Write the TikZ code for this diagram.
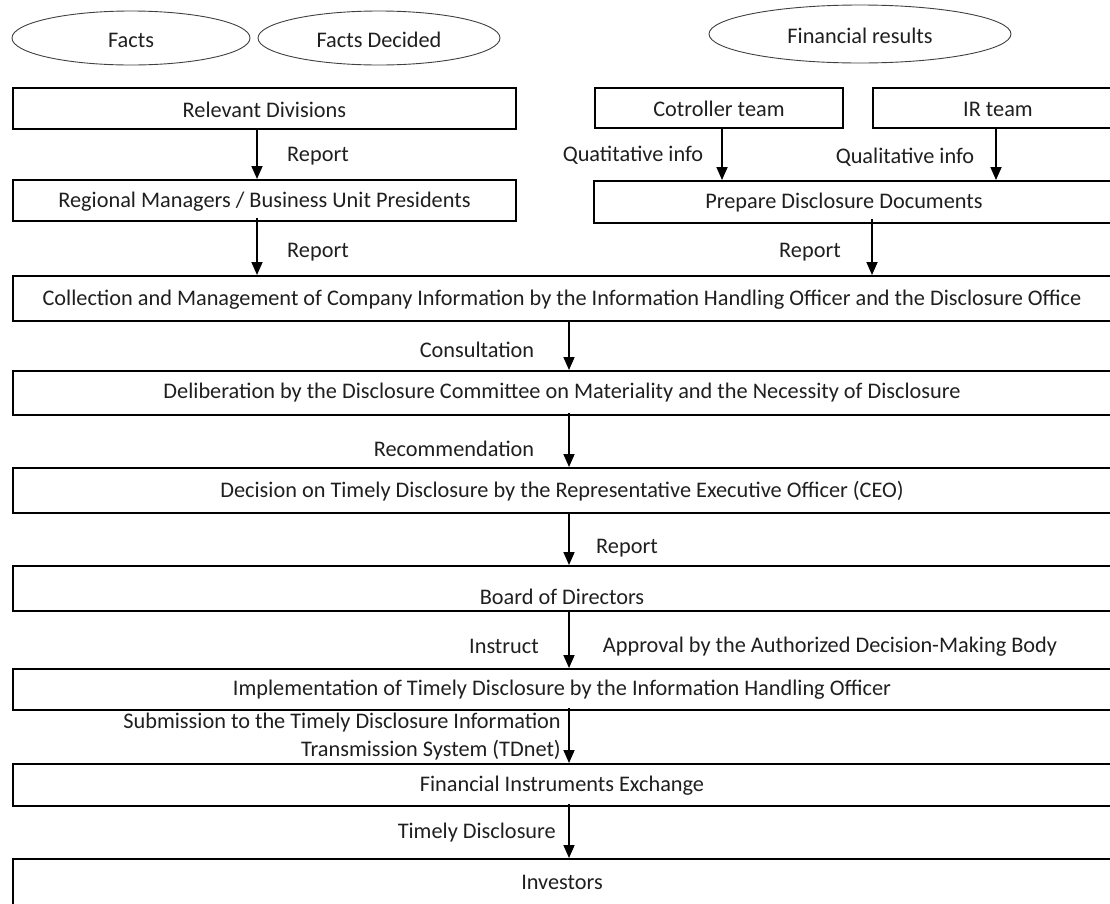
\documentclass[tikz,border=0pt]{standalone}
\usepackage{fontspec}
\setmainfont{Carlito}
\usetikzlibrary{arrows.meta}
\begin{document}
\begin{tikzpicture}[x=1pt,y=-1pt,
  every node/.style={font=\fontsize{22.3}{26}\selectfont, text=black!88},
  box/.style={draw=black, line width=1.9pt, inner sep=0pt, anchor=north west},
  arr/.style={line width=1.7pt, -{Triangle[width=11pt,length=13pt]}},
  lab/.style={inner sep=0pt}]
\useasboundingbox (0,0) rectangle (1110,903);
% ellipses
\draw[black!75, line width=0.9pt] (131,38) ellipse [x radius=119, y radius=27];
\node[lab] (facts) at (131,40) {Facts};
\draw[black!75, line width=0.9pt] (379,38) ellipse [x radius=121, y radius=27];
\node[lab] (factsd) at (379,40) {Facts Decided};
\draw[black!75, line width=0.9pt] (860,34) ellipse [x radius=151, y radius=29];
\node[lab] (finres) at (860,36) {Financial results};
% left column
\node[box, minimum width=503pt, minimum height=41pt] (rel) at (12,87) {};
\node[lab] at ([yshift=-1pt]rel.center) {Relevant Divisions};
\node[box, minimum width=503pt, minimum height=41pt] (reg) at (12,179) {};
\node[lab] at ([yshift=-1pt]reg.center) {Regional Managers / Business Unit Presidents};
% right column
\node[box, minimum width=248pt, minimum height=40pt] (ctl) at (594,87) {};
\node[lab] at ([yshift=-1pt]ctl.center) {Cotroller team};
\node[box, minimum width=250pt, minimum height=40pt] (ir) at (872,87) {};
\node[lab] at ([yshift=-1pt]ir.center) {IR team};
\node[box, minimum width=530pt, minimum height=42pt] (prep) at (593,180) {};
\node[lab] at ([xshift=-15pt,yshift=-1pt]prep.center) {Prepare Disclosure Documents};
% main column
\node[box, minimum width=1110pt, minimum height=45pt] (coll) at (12,275) {};
\node[lab] at (562,300) {Collection and Management of Company Information by the Information Handling Officer and the Disclosure Office};
\node[box, minimum width=1110pt, minimum height=44pt] (delib) at (12,370) {};
\node[lab] at (562,393) {Deliberation by the Disclosure Committee on Materiality and the Necessity of Disclosure};
\node[box, minimum width=1110pt, minimum height=45pt] (dec) at (12,467) {};
\node[lab] at (562,491) {Decision on Timely Disclosure by the Representative Executive Officer (CEO)};
\node[box, minimum width=1110pt, minimum height=45pt] (board) at (12,565) {};
\node[lab] at (562,597) {Board of Directors};
\node[box, minimum width=1110pt, minimum height=41pt] (impl) at (12,668) {};
\node[lab] at (562,690) {Implementation of Timely Disclosure by the Information Handling Officer};
\node[box, minimum width=1110pt, minimum height=42pt] (fie) at (12,763) {};
\node[lab] at (562,786) {Financial Instruments Exchange};
\node[box, minimum width=1110pt, minimum height=60pt] (inv) at (12,858) {};
\node[lab] at (562,882) {Investors};
% arrow columns
\coordinate (cL) at (257,0);
\coordinate (cC) at (722,0);
\coordinate (cI) at (996,0);
\coordinate (cP) at (872,0);
\coordinate (cM) at (569,0);
% arrows
\draw[arr] (rel.south -| cL) -- (reg.north -| cL);
\node[lab] at (318,156) {Report};
\draw[arr] ([yshift=4pt]reg.south -| cL) -- (coll.north -| cL);
\node[lab] at (318,252) {Report};
\draw[arr] (ctl.south -| cC) -- (prep.north -| cC);
\node[lab] at (633,155) {Quatitative info};
\draw[arr] (ir.south -| cI) -- (prep.north -| cI);
\node[lab] at (905,157) {Qualitative info};
\draw[arr] ([yshift=5pt]prep.south -| cP) -- (coll.north -| cP);
\node[lab] at (810,252) {Report};
\draw[arr] ([yshift=2pt]coll.south -| cM) -- (delib.north -| cM);
\node[lab] at (477,350) {Consultation};
\draw[arr] ([yshift=3pt]delib.south -| cM) -- (dec.north -| cM);
\node[lab] at (454,449) {Recommendation};
\draw[arr] (dec.south -| cM) -- (board.north -| cM);
\node[lab] at (627,548) {Report};
\draw[arr] ([yshift=2pt]board.south -| cM) -- (impl.north -| cM);
\node[lab] at (504,646) {Instruct};
\node[lab] at (830,647) {Approval by the Authorized Decision-Making Body};
\draw[arr] ([yshift=3pt]impl.south -| cM) -- (fie.north -| cM);
\node[lab, anchor=east] at (561,723) {Submission to the Timely Disclosure Information};
\node[lab, anchor=east] at (561,750) {Transmission System (TDnet)};
\draw[arr] ([yshift=3pt]fie.south -| cM) -- (inv.north -| cM);
\node[lab, anchor=east] at (556,833) {Timely Disclosure};
\end{tikzpicture}
\end{document}
